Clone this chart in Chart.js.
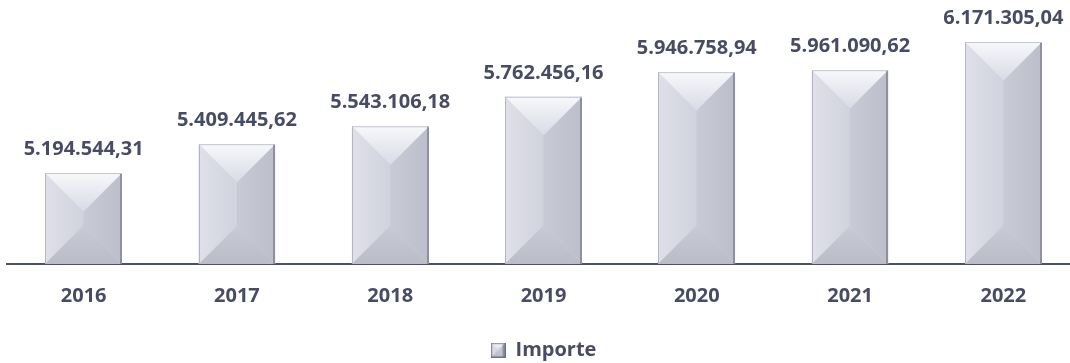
<!DOCTYPE html>
<html>
<head>
<meta charset="utf-8">
<script src="https://cdn.jsdelivr.net/npm/chart.js@4.4.1/dist/chart.umd.min.js"></script>
<style>
  html, body { margin: 0; padding: 0; background: #ffffff; overflow: hidden; width: 1070px; height: 363px; }
  #wrap { position: absolute; left: 0; top: 0; width: 1080px; height: 363px; }
</style>
</head>
<body>
<div id="wrap"><canvas id="c" width="1080" height="363"></canvas></div>
<script>
const categories = ['2016', '2017', '2018', '2019', '2020', '2021', '2022'];
const importe = [5194544.31, 5409445.62, 5543106.18, 5762456.16, 5946758.94, 5961090.62, 6171305.04];
const seriesName = 'Importe';
const axisMin = 4516000;
const axisMax = 6462000;

const TEXT = '#474c62';
const FONT = '"Open Sans", Lato, sans-serif';

function fmt(v) {
  const parts = v.toFixed(2).split('.');
  const int = parts[0].replace(/\B(?=(\d{3})+(?!\d))/g, '.');
  return int + ',' + parts[1];
}

function drawBevel(ctx, l, t, r, b) {
  const w = r - l, h = b - t;
  const d = Math.min(w / 2, h / 2);
  ctx.fillStyle = '#cfd1dc';
  ctx.fillRect(l, t, w, h);
  let g = ctx.createLinearGradient(l, 0, l + d, 0);
  g.addColorStop(0, '#dfe0e9'); g.addColorStop(1, '#d0d2dd');
  ctx.fillStyle = g;
  ctx.beginPath(); ctx.moveTo(l, t); ctx.lineTo(l + d, t + d); ctx.lineTo(l + d, b - d); ctx.lineTo(l, b); ctx.closePath(); ctx.fill();
  g = ctx.createLinearGradient(r - d, 0, r, 0);
  g.addColorStop(0, '#c8cad6'); g.addColorStop(1, '#bcbeca');
  ctx.fillStyle = g;
  ctx.beginPath(); ctx.moveTo(r, t); ctx.lineTo(r - d, t + d); ctx.lineTo(r - d, b - d); ctx.lineTo(r, b); ctx.closePath(); ctx.fill();
  g = ctx.createLinearGradient(0, t, 0, t + d);
  g.addColorStop(0, '#f7f8fb'); g.addColorStop(1, '#d9dbe5');
  ctx.fillStyle = g;
  ctx.beginPath(); ctx.moveTo(l, t); ctx.lineTo(r, t); ctx.lineTo(r - d, t + d); ctx.lineTo(l + d, t + d); ctx.closePath(); ctx.fill();
  g = ctx.createLinearGradient(0, b - d, 0, b);
  g.addColorStop(0, '#c8cad5'); g.addColorStop(1, '#babcc8');
  ctx.fillStyle = g;
  ctx.beginPath(); ctx.moveTo(l, b); ctx.lineTo(r, b); ctx.lineTo(r - d, b - d); ctx.lineTo(l + d, b - d); ctx.closePath(); ctx.fill();
  ctx.fillStyle = '#8e909f';
  ctx.fillRect(r - 2, t, 2, h);
  ctx.fillStyle = '#b3b5c2';
  ctx.fillRect(l, t, 1, h);
  ctx.fillStyle = '#c4c6d2';
  ctx.fillRect(l, t, w, 1);
}

function legendIcon() {
  const cv = document.createElement('canvas');
  cv.width = 15; cv.height = 15;
  const c = cv.getContext('2d');
  drawBevel(c, 1, 1, 14, 14);
  c.strokeStyle = '#6e7182';
  c.lineWidth = 1;
  c.strokeRect(0.5, 0.5, 14, 14);
  return cv;
}
const icon = legendIcon();

const bevelPlugin = {
  id: 'bevel',
  afterDatasetsDraw(chart) {
    const ctx = chart.ctx;
    const meta = chart.getDatasetMeta(0);
    ctx.save();
    meta.data.forEach((bar, i) => {
      const p = bar.getProps(['x', 'y', 'base', 'width'], true);
      const l = Math.round(p.x - p.width / 2), r = Math.round(p.x + p.width / 2);
      drawBevel(ctx, l, p.y, r, p.base);
      ctx.fillStyle = TEXT;
      ctx.font = 'bold 20px ' + FONT;
      ctx.textAlign = 'center';
      ctx.textBaseline = 'alphabetic';
      ctx.fillText(fmt(importe[i]), p.x, p.y - 18);
    });
    ctx.restore();
  }
};

new Chart(document.getElementById('c'), {
  type: 'bar',
  data: {
    labels: categories,
    datasets: [{
      label: seriesName,
      data: importe,
      base: axisMin,
      backgroundColor: '#cfd1dc',
      borderWidth: 0,
      barPercentage: 0.5,
      categoryPercentage: 1.0
    }]
  },
  options: {
    responsive: false,
    devicePixelRatio: 1,
    animation: false,
    layout: { padding: { left: 7, right: 0, top: 3, bottom: -7 } },
    scales: {
      x: {
        grid: { display: false, drawTicks: false },
        border: { display: true, color: '#4b5068', width: 2 },
        ticks: { color: TEXT, font: { family: FONT, size: 20, weight: 'bold' }, padding: 20 },
        afterFit(scale) { scale.height = 73; }
      },
      y: {
        display: false,
        min: axisMin,
        max: axisMax
      }
    },
    plugins: {
      legend: {
        position: 'bottom',
        labels: {
          color: TEXT,
          font: { family: FONT, size: 20, weight: 'bold' },
          usePointStyle: true,
          boxWidth: 15,
          boxHeight: 15,
          padding: 3,
          generateLabels(chart) {
            return [{
              text: seriesName,
              fillStyle: '#cfd1dc',
              strokeStyle: '#6e7182',
              lineWidth: 0,
              pointStyle: icon,
              fontColor: TEXT,
              hidden: false,
              datasetIndex: 0
            }];
          }
        }
      },
      tooltip: { enabled: false }
    }
  },
  plugins: [bevelPlugin]
});
</script>
</body>
</html>
